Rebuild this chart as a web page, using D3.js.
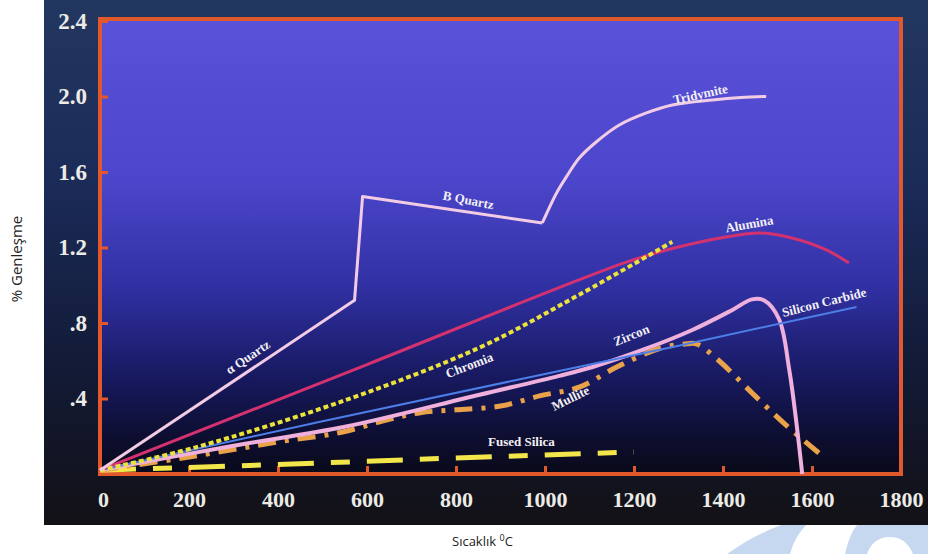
<!DOCTYPE html>
<html><head><meta charset="utf-8">
<script src="https://cdn.jsdelivr.net/npm/d3@7"></script>
<style>body{margin:0;background:#fff}svg{display:block}</style>
</head><body>
<svg id="c" width="928" height="554"></svg>
<script>
// ---- data ----
const xTicks = [0,200,400,600,800,1000,1200,1400,1600,1800];
const yTicks = [0.4,0.8,1.2,1.6,2.0,2.4];
const yTickLabels = [".4",".8","1.2","1.6","2.0","2.4"];

const quartzT = [0,572,590,994];
const quartzV = [0.02,0.92,1.47,1.33];
const tridymiteT = [994,1026,1048,1077,1115,1167,1228,1286,1376,1440,1497];
const tridymiteV = [1.33,1.489,1.574,1.674,1.759,1.849,1.913,1.955,1.982,1.995,2.0];
const aluminaT = [0,600,1180,1295,1407,1481,1555,1632,1683];
const aluminaV = [0.02,0.58,1.12,1.20,1.256,1.277,1.25,1.187,1.118];
const chromiaT = [0,213,550,853,1077,1286];
const chromiaV = [0.02,0.14,0.39,0.67,0.95,1.23];
const sicT = [0,500,1000,1300,1700];
const sicV = [0.02,0.28,0.53,0.68,0.885];
const zirconT = [0,300,550,853,1032,1107,1219,1331,1421,1465,1492,1526,1549,1564,1578];
const zirconV = [0.02,0.15,0.25,0.42,0.52,0.567,0.657,0.763,0.869,0.925,0.92,0.82,0.55,0.29,0.0];
const mulliteT = [0,200,400,540,650,720,800,900,990,1077,1160,1257,1320,1340,1391,1465,1541,1616];
const mulliteV = [0.02,0.09,0.17,0.22,0.29,0.325,0.34,0.36,0.415,0.46,0.565,0.665,0.69,0.69,0.60,0.43,0.26,0.11];
const fusedT = [0,400,800,1200];
const fusedV = [0.02,0.05,0.085,0.117];

// label annotations (data coords + rotation)
const labelNames = ["α Quartz","B Quartz","Tridymite","Alumina","Chromia","Zircon","Silicon Carbide","Mullite","Fused Silica"];
const labelT = [332,828,1349,1459,830,1194,1627,1057,947];
const labelV = [0.62,1.452,2.013,1.325,0.577,0.736,0.911,0.403,0.175];
const labelRot = [-34,11,-12,-10,-21,-22,-14,-26,0];

// ---- drawing ----
const svg = d3.select("#c");
const x = d3.scaleLinear().domain([0,1800]).range([100,901]);
const y = d3.scaleLinear().domain([0,2.4]).range([474,21]);

const defs = svg.append("defs");
const g1 = defs.append("linearGradient").attr("id","photo").attr("x1",0).attr("y1",0).attr("x2",0).attr("y2",1);
[["0%","#22375f"],["35%","#1b2b58"],["70%","#121a36"],["100%","#131116"]].forEach(s=>g1.append("stop").attr("offset",s[0]).attr("stop-color",s[1]));
const g2 = defs.append("linearGradient").attr("id","plot").attr("x1",0).attr("y1",0).attr("x2",0).attr("y2",1);
[["0%","#5a52d8"],["35%","#4c46cc"],["60%","#2f2fa0"],["78%","#181a62"],["92%","#0d0e30"],["100%","#0a0a1a"]].forEach(s=>g2.append("stop").attr("offset",s[0]).attr("stop-color",s[1]));

// photo background
svg.append("rect").attr("x",44).attr("y",0).attr("width",884).attr("height",525).attr("fill","url(#photo)");
svg.append("rect").attr("x",x(0)).attr("y",y(2.4)-2).attr("width",x(1800)-x(0)).attr("height",y(0)-y(2.4)+2).attr("fill","url(#plot)");

// watermark shapes
svg.append("path").attr("d","M727,554 Q752,536 781,525 L806,525 Q794,538 790,554 Z").attr("fill","#c6d8f0");
svg.append("path").attr("d","M845,554 Q849,535 857,525 L928,525 L928,554 L913,554 Q906,537 890,537 Q873,537 867,554 Z").attr("fill","#c6d8f0");

// axes
const orange = "#e0582c";
const serif = "'Liberation Serif','Times New Roman',serif";
const xa = svg.append("g").attr("transform",`translate(0,${y(0)})`)
  .call(d3.axisBottom(x).tickValues(xTicks).tickSize(-8).tickPadding(17).tickFormat(d3.format("d")));
xa.select(".domain").remove();
xa.selectAll("line").attr("stroke",orange).attr("stroke-width",3);
xa.selectAll("text").attr("fill","#ecebe6").attr("font-family",serif)
  .attr("font-weight","bold").attr("font-size",22);
xa.selectAll(".tick").filter(d=>d===0).select("text").attr("dx",3);

const ya = svg.append("g").attr("transform",`translate(${x(0)},0)`)
  .call(d3.axisLeft(y).tickValues(yTicks).tickSize(-8).tickPadding(13).tickFormat((d,i)=>yTickLabels[i]));
ya.select(".domain").remove();
ya.selectAll("line").attr("stroke",orange).attr("stroke-width",3);
ya.selectAll("text").attr("fill","#ecebe6").attr("font-family",serif)
  .attr("font-weight","bold").attr("font-size",23);

// frame
svg.append("path")
  .attr("d",`M${x(0)},${y(0)} L${x(0)},${y(2.4)-2} L${x(1800)},${y(2.4)-2} L${x(1800)},${y(0)} Z`)
  .attr("fill","none").attr("stroke",orange).attr("stroke-width",4);

// lines
function series(T,V){ return T.map((t,i)=>[t,V[i]]); }
const lineLin = d3.line().x(d=>x(d[0])).y(d=>y(d[1]));
const lineSm = d3.line().x(d=>x(d[0])).y(d=>y(d[1])).curve(d3.curveCatmullRom.alpha(0.5));
const plot = svg.append("g").attr("fill","none").attr("stroke-linecap","butt").attr("stroke-linejoin","round");

plot.append("path").attr("d",lineLin(series(fusedT,fusedV))).attr("stroke","#f2e64a").attr("stroke-width",5).attr("stroke-dasharray","36 17 19 17");
plot.append("path").attr("d",lineSm(series(mulliteT,mulliteV))).attr("stroke","#eaa24a").attr("stroke-width",5).attr("stroke-dasharray","18 9 4 9");
plot.append("path").attr("d",lineSm(series(zirconT,zirconV))).attr("stroke","#f0b0dc").attr("stroke-width",4);
plot.append("path").attr("d",lineLin(series(sicT,sicV))).attr("stroke","#4d7ee8").attr("stroke-width",2);
plot.append("path").attr("d",lineSm(series(aluminaT,aluminaV))).attr("stroke","#d4326f").attr("stroke-width",3);
plot.append("path").attr("d",lineSm(series(chromiaT,chromiaV))).attr("stroke","#ece23c").attr("stroke-width",4).attr("stroke-dasharray","5 3");
plot.append("path").attr("d",lineLin(series(quartzT,quartzV))).attr("stroke","#f2cce4").attr("stroke-width",3);
plot.append("path").attr("d",lineSm(series(tridymiteT,tridymiteV))).attr("stroke","#f2cce4").attr("stroke-width",3);

// labels
const lab = svg.append("g").attr("font-family",serif)
  .attr("font-weight","bold").attr("font-size",13).attr("fill","#f4f0f4").attr("text-anchor","middle");
labelNames.forEach((n,i)=>{
  const px = x(labelT[i]), py = y(labelV[i]);
  lab.append("text").attr("transform",`translate(${px},${py}) rotate(${labelRot[i]})`).attr("dy","0.35em").text(n);
});

// outer axis titles
svg.append("text").attr("transform","translate(22,259) rotate(-90)").attr("text-anchor","middle")
  .attr("font-family","'Open Sans',sans-serif").attr("font-size",15).attr("fill","#222").text("% Genleşme");
const xt = svg.append("text").attr("x",452).attr("y",546).attr("font-family","'Open Sans',sans-serif")
  .attr("font-size",13).attr("fill","#222");
xt.append("tspan").text("Sıcaklık ");
xt.append("tspan").attr("font-size",9).attr("dy",-5).text("0");
xt.append("tspan").attr("dy",5).text("C");
</script>
</body></html>
